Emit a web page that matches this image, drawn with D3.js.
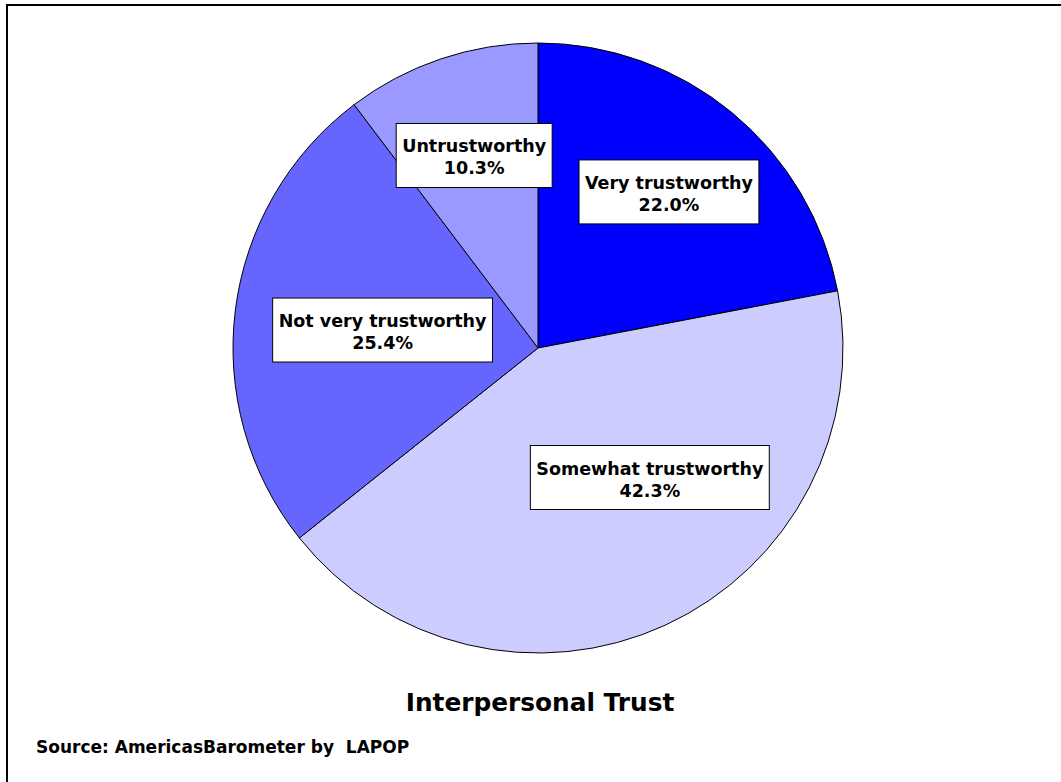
<!DOCTYPE html>
<html>
<head>
<meta charset="utf-8">
<script src="https://cdn.jsdelivr.net/npm/d3@7"></script>
<style>
  html, body { margin: 0; padding: 0; background: #fff; }
  svg { display: block; }
  text { font-family: "DejaVu Sans", Verdana, sans-serif; font-weight: 700; fill: #000; }
</style>
</head>
<body>
<svg id="chart" width="1061" height="782"></svg>
<script>
// ---- data ----
const categories = ["Very trustworthy", "Somewhat trustworthy", "Not very trustworthy", "Untrustworthy"];
const values = [22.0, 42.3, 25.4, 10.3];
const valueLabels = ["22.0%", "42.3%", "25.4%", "10.3%"];
const colors = ["#0000FF", "#CCCCFF", "#6666FF", "#9999FF"];
const title = "Interpersonal Trust";
const source = "Source: AmericasBarometer by  LAPOP";

// ---- layout (label placement: fraction of radius + angular shift in degrees) ----
const labelRadius = [0.668, 0.561, 0.513, 0.665];
const labelShift = [0.4, -16.15, -0.6, 0.2];

const cx = 538, cy = 348, R = 305;

const svg = d3.select("#chart");

// frame
svg.append("rect")
  .attr("x", 7).attr("y", 5)
  .attr("width", 1100).attr("height", 900)
  .attr("fill", "none").attr("stroke", "#000").attr("stroke-width", 2);

const data = categories.map((c, i) => ({ name: c, value: values[i], label: valueLabels[i], color: colors[i], i }));

const pie = d3.pie().value(d => d.value).sort(null);
const arcs = pie(data);
const arc = d3.arc().innerRadius(0).outerRadius(R);

const g = svg.append("g").attr("transform", `translate(${cx},${cy})`);

g.selectAll("path.slice")
  .data(arcs)
  .join("path")
  .attr("class", "slice")
  .attr("d", arc)
  .attr("fill", d => d.data.color)
  .attr("stroke", "#000")
  .attr("stroke-width", 1)
  .attr("stroke-linejoin", "round");

// labels
const fs = 17.5, lineGap = 22, padX = 6;
arcs.forEach((a, k) => {
  const mid = (a.startAngle + a.endAngle) / 2 + labelShift[k] * Math.PI / 180;
  const rr = labelRadius[k] * R;
  const x = Math.sin(mid) * rr;
  const y = -Math.cos(mid) * rr;
  const lg = g.append("g").attr("transform", `translate(${x},${y})`);
  const box = lg.append("rect");
  const t = lg.append("text").attr("text-anchor", "middle").style("font-size", fs + "px");
  const s1 = t.append("tspan").attr("x", 0).attr("y", -3).text(a.data.name);
  const s2 = t.append("tspan").attr("x", 0).attr("y", -3 + lineGap).text(a.data.label);
  const w = Math.max(s1.node().getComputedTextLength(), s2.node().getComputedTextLength()) + 2 * padX;
  box.attr("x", -w / 2).attr("y", -32).attr("width", w).attr("height", 64)
    .attr("fill", "#fff").attr("stroke", "#000").attr("stroke-width", 1);
});

// title
svg.append("text")
  .attr("x", 540).attr("y", 711)
  .attr("text-anchor", "middle")
  .style("font-size", "24.8px")
  .text(title);

// source
svg.append("text")
  .attr("x", 36).attr("y", 753)
  .style("font-size", "17px")
  .style("white-space", "pre")
  .text(source);
</script>
</body>
</html>
